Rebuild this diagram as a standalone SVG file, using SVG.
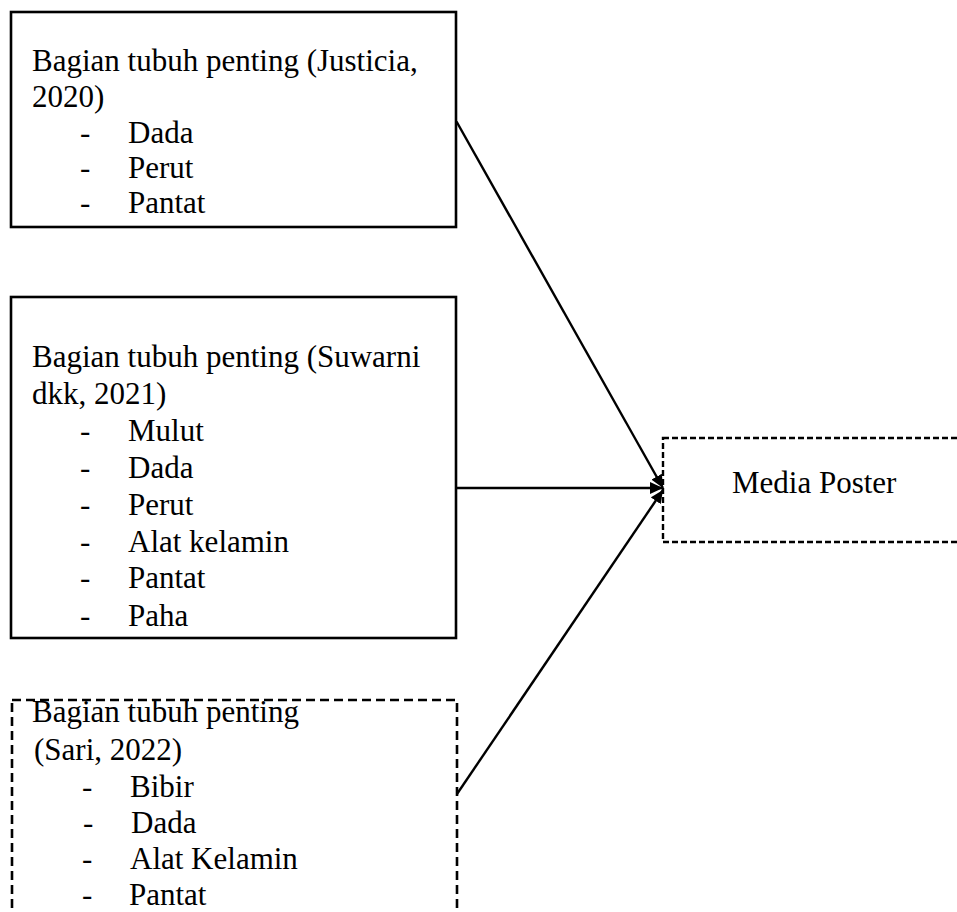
<svg xmlns="http://www.w3.org/2000/svg" width="957" height="912" viewBox="0 0 957 912">
<style>
text{font-family:"Liberation Serif","Times New Roman",serif;font-size:31px;fill:#000}
.box{fill:#fff;stroke:#000;stroke-width:2.6}
.dash3{fill:#fff;stroke:#000;stroke-width:2.6;stroke-dasharray:9,5}
.dashm{fill:#fff;stroke:#000;stroke-width:2.4;stroke-dasharray:6,3}
.conn{stroke:#000;stroke-width:2.4;fill:none;marker-end:url(#arr)}
</style>
<defs>
<marker id="arr" markerWidth="14" markerHeight="12" refX="13" refY="6" orient="auto" markerUnits="userSpaceOnUse">
<path d="M0,0 L13,6 L0,12 Z" fill="#000"/>
</marker>
</defs>
<rect width="957" height="912" fill="#fff"/>
<g id="node-justicia">
<rect class="box" x="11" y="12" width="445" height="215"/>
<text x="32" y="71">Bagian tubuh penting (Justicia,</text>
<text x="32" y="107">2020)</text>
<text x="80" y="143">-</text><text x="128" y="143">Dada</text>
<text x="80" y="178">-</text><text x="128" y="178">Perut</text>
<text x="80" y="213">-</text><text x="128" y="213">Pantat</text>
</g>
<g id="node-suwarni">
<rect class="box" x="11" y="297" width="445" height="341"/>
<text x="32" y="367">Bagian tubuh penting (Suwarni</text>
<text x="32" y="404">dkk, 2021)</text>
<text x="80" y="441">-</text><text x="128" y="441">Mulut</text>
<text x="80" y="478">-</text><text x="128" y="478">Dada</text>
<text x="80" y="515">-</text><text x="128" y="515">Perut</text>
<text x="80" y="552">-</text><text x="128" y="552">Alat kelamin</text>
<text x="80" y="588">-</text><text x="128" y="588">Pantat</text>
<text x="80" y="626">-</text><text x="128" y="626">Paha</text>
</g>
<g id="node-sari">
<rect class="dash3" x="12" y="700" width="445" height="240"/>
<text x="32" y="722">Bagian tubuh penting</text>
<text x="34" y="760">(Sari, 2022)</text>
<text x="82" y="797">-</text><text x="130" y="797">Bibir</text>
<text x="83" y="833">-</text><text x="131" y="833">Dada</text>
<text x="82" y="869">-</text><text x="130" y="869">Alat Kelamin</text>
<text x="82" y="905">-</text><text x="129" y="905">Pantat</text>
</g>
<g id="node-media">
<rect class="dashm" x="663" y="438" width="320" height="104"/>
<text x="732" y="493">Media Poster</text>
</g>
<g id="connectors">
<line class="conn" x1="456.5" y1="121.5" x2="663" y2="488"/>
<line class="conn" x1="457" y1="488" x2="663" y2="488"/>
<line class="conn" x1="457" y1="794" x2="663" y2="490"/>
</g>
</svg>
